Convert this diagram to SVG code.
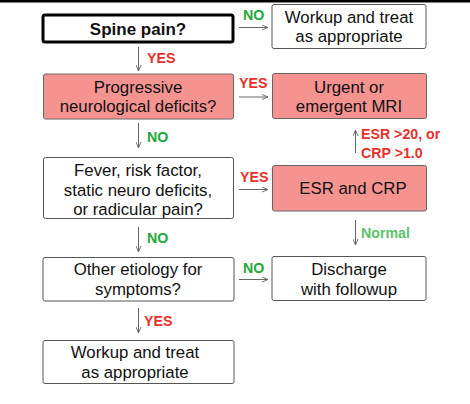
<svg xmlns="http://www.w3.org/2000/svg" width="470" height="404" viewBox="0 0 470 404">
<defs>
<style>
.box{fill:#fff;stroke:#555;stroke-width:1}
.pink{fill:#f59391;stroke:#666;stroke-width:1}
.t{font-family:"Liberation Sans",Arial,sans-serif;font-size:16.8px;fill:#111;text-anchor:middle}
.lbl{font-family:"Liberation Sans",Arial,sans-serif;font-size:14.2px;font-weight:bold}
.red{fill:#e8312b}
.green{fill:#22a83a}
.lightgreen{fill:#5cc26a}
.conn{stroke:#666;stroke-width:1;fill:none;marker-end:url(#ah)}
</style>
<marker id="ah" viewBox="0 0 6 6" refX="6" refY="3" markerWidth="6" markerHeight="6" orient="auto" markerUnits="userSpaceOnUse">
<path d="M0,0.5 L6,3 L0,5.5" fill="none" stroke="#666" stroke-width="0.9"/>
</marker>
</defs>
<rect width="470" height="404" fill="#fff"/>
<rect x="0" y="0" width="470" height="2.5" fill="#000"/>

<g id="spine">
<rect x="43" y="15" width="190" height="27" rx="2" fill="#fff" stroke="#000" stroke-width="3"/>
<text class="t" x="138" y="34.5" style="font-weight:bold;font-size:17px">Spine pain?</text>
</g>
<g id="workup1">
<rect class="box" x="272" y="4.5" width="154" height="44" rx="2"/>
<text class="t" x="349" y="23">Workup and treat</text>
<text class="t" x="349" y="42">as appropriate</text>
</g>
<g id="progressive">
<rect class="pink" x="43.5" y="74" width="190" height="45" rx="2"/>
<text class="t" x="138" y="93">Progressive</text>
<text class="t" x="138" y="112">neurological deficits?</text>
</g>
<g id="mri">
<rect class="pink" x="272.5" y="73.5" width="154" height="45" rx="2"/>
<text class="t" x="349" y="93">Urgent or</text>
<text class="t" x="349" y="112">emergent MRI</text>
</g>
<g id="fever">
<rect class="box" x="43.5" y="157.5" width="190" height="61" rx="2"/>
<text class="t" x="138" y="175.5">Fever, risk factor,</text>
<text class="t" x="138" y="195.5">static neuro deficits,</text>
<text class="t" x="138" y="215">or radicular pain?</text>
</g>
<g id="esr">
<rect class="pink" x="272.5" y="165.5" width="154" height="45.5" rx="2"/>
<text class="t" x="353" y="194">ESR and CRP</text>
</g>
<g id="other">
<rect class="box" x="43" y="257.5" width="191" height="43.5" rx="2"/>
<text class="t" x="138" y="275">Other etiology for</text>
<text class="t" x="138" y="295">symptoms?</text>
</g>
<g id="discharge">
<rect class="box" x="272" y="256.5" width="154" height="44" rx="2"/>
<text class="t" x="349" y="275">Discharge</text>
<text class="t" x="349" y="295">with followup</text>
</g>
<g id="workup2">
<rect class="box" x="43" y="340.5" width="191" height="43" rx="2"/>
<text class="t" x="135" y="358">Workup and treat</text>
<text class="t" x="135" y="378">as appropriate</text>
</g>

<g id="connectors">
<line class="conn" x1="239" y1="27.5" x2="268" y2="27.5"/>
<line class="conn" x1="138.5" y1="47" x2="138.5" y2="71"/>
<line class="conn" x1="239" y1="97" x2="268" y2="97"/>
<line class="conn" x1="138.5" y1="123" x2="138.5" y2="148"/>
<line class="conn" x1="355.5" y1="153" x2="355.5" y2="130"/>
<line class="conn" x1="239" y1="189.5" x2="268" y2="189.5"/>
<line class="conn" x1="355.5" y1="220" x2="355.5" y2="245"/>
<line class="conn" x1="138.5" y1="227" x2="138.5" y2="252"/>
<line class="conn" x1="239" y1="279.5" x2="268" y2="279.5"/>
<line class="conn" x1="138.5" y1="308" x2="138.5" y2="333"/>
<text class="lbl green" x="243" y="19.5">NO</text>
<text class="lbl red" x="147" y="63">YES</text>
<text class="lbl red" x="239" y="87.5">YES</text>
<text class="lbl green" x="147" y="142">NO</text>
<text class="lbl red" x="361" y="139">ESR &gt;20, or</text>
<text class="lbl red" x="361" y="157.5">CRP &gt;1.0</text>
<text class="lbl red" x="240" y="182">YES</text>
<text class="lbl lightgreen" x="361" y="237.5">Normal</text>
<text class="lbl green" x="147" y="242.5">NO</text>
<text class="lbl green" x="243" y="272.5">NO</text>
<text class="lbl red" x="144" y="325.5">YES</text>
</g>
</svg>
